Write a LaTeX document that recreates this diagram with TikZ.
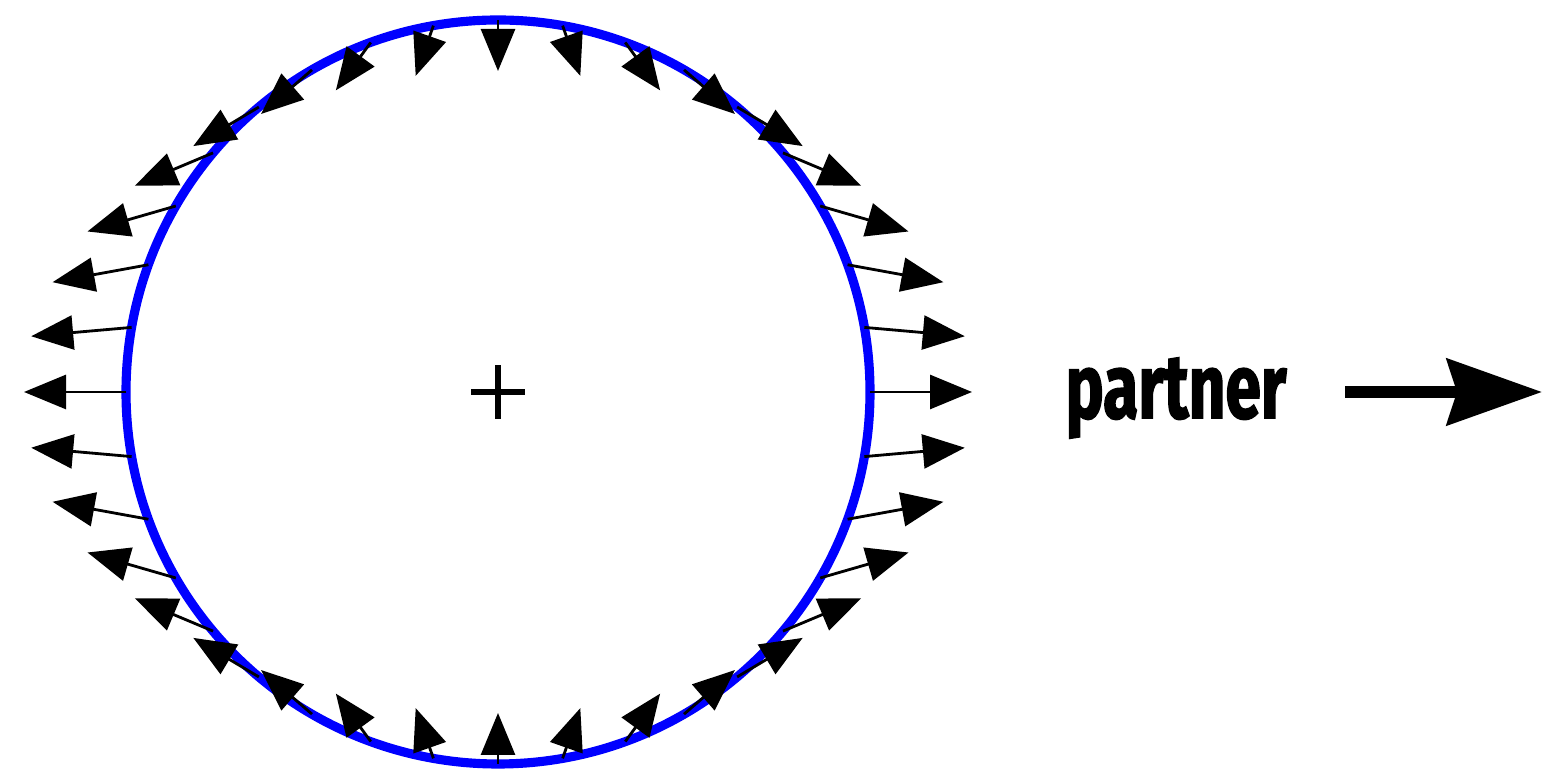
\documentclass[tikz,border=0pt]{standalone}
\usepackage{fontspec}
\usepackage{xcolor}
\usepackage{tikz}
\usetikzlibrary{arrows.meta, positioning, calc}
\newfontfamily\tagfont{Fira Sans}[FakeStretch=0.7, FakeBold=1.6]
\definecolor{Ink}{HTML}{000000}
\definecolor{Rim}{HTML}{0000FF}

\begin{document}
\begin{tikzpicture}[
  rim/.style={draw=Rim, line width=2.6pt},
  tide/.style={-{Triangle[length=4.2mm, width=3.4mm]}, line width=0.8pt, draw=Ink},
  pull/.style={-{Stealth[length=9.5mm, width=6.6mm, inset=1mm]}, line width=3.3pt, draw=Ink},
  tag/.style={font=\tagfont\bfseries\fontsize{26}{31}\selectfont, text=Ink, inner sep=0pt}
]
\useasboundingbox (0,0) rectangle (15.42,7.77);
\coordinate (centre) at (4.98,3.85);

\draw[rim] (centre) circle (3.72);
\draw[line width=1.8pt, draw=Ink] ($(centre)+(-0.27,0)$) -- ($(centre)+(0.27,0)$);
\draw[line width=1.8pt, draw=Ink] ($(centre)+(0,-0.27)$) -- ($(centre)+(0,0.27)$);

% tidal stretch along the rim
\foreach \a in {0,10,...,350}{
  \coordinate (rim\a) at ($(centre)+(\a:3.72)$);
  \draw[tide] (rim\a) -- ++({1.02*cos(\a)},{-0.51*sin(\a)});
}

\node[tag] (partner) at (11.76,3.79) {partner};
\coordinate (tail) at (13.45,3.85);
\coordinate (far) at (15.42,3.85);
\draw[pull] (tail) -- (far);
\end{tikzpicture}
\end{document}
